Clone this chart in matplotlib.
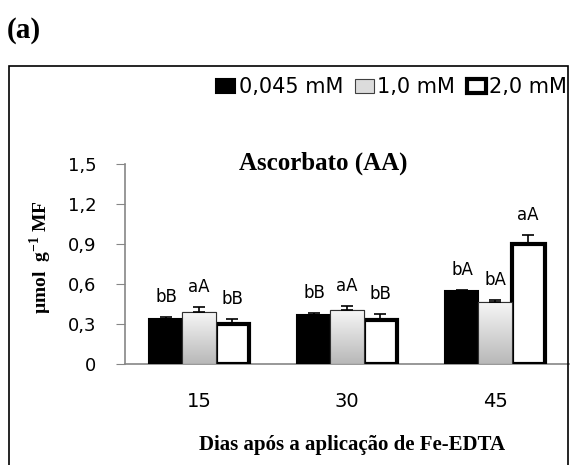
import matplotlib
matplotlib.use("Agg")
import matplotlib.pyplot as plt
import numpy as np
from matplotlib.patches import Rectangle
from matplotlib.colors import LinearSegmentedColormap

plt.rcParams['mathtext.fontset'] = 'custom'
plt.rcParams['mathtext.rm'] = 'Liberation Serif:bold'
plt.rcParams['mathtext.bf'] = 'Liberation Serif:bold'

categories = ["15", "30", "45"]
series_names = ["0,045 mM", "1,0 mM", "2,0 mM"]
values = {
    "0,045 mM": [0.34, 0.37, 0.545],
    "1,0 mM": [0.39, 0.405, 0.465],
    "2,0 mM": [0.30, 0.332, 0.90],
}
errors = {
    "0,045 mM": [0.01, 0.01, 0.01],
    "1,0 mM": [0.035, 0.032, 0.015],
    "2,0 mM": [0.04, 0.04, 0.07],
}
letters = {
    "0,045 mM": ["bB", "bB", "bA"],
    "1,0 mM": ["aA", "aA", "bA"],
    "2,0 mM": ["bB", "bB", "aA"],
}
yticks = [0, 0.3, 0.6, 0.9, 1.2, 1.5]
ytick_labels = ["0", "0,3", "0,6", "0,9", "1,2", "1,5"]

W, H = 570, 465
fig = plt.figure(figsize=(W/100, H/100), dpi=100)
ax = fig.add_axes([125/W, 1-364/H, (569-125)/W, (364-164)/H])

sans = ['DejaVu Sans']
serif = ['Liberation Serif', 'DejaVu Serif']

x = np.arange(len(categories))
bw = 0.223
offsets = [-bw, 0, bw]
gray_cmap = LinearSegmentedColormap.from_list("g", ["#b8b8b8", "#f6f6f6"])
grad = np.linspace(0, 1, 100).reshape(-1, 1)

handles = []
for i, name in enumerate(series_names):
    vals = values[name]
    errs = errors[name]
    if i == 0:
        bars = ax.bar(x + offsets[i], vals, bw, color='black', edgecolor='black',
                      linewidth=1.5, zorder=3, label=name)
    elif i == 1:
        bars = ax.bar(x + offsets[i], vals, bw, color='#dcdcdc', edgecolor='#404040',
                      linewidth=0.8, zorder=3, label=name)
        for b in bars:
            x0, y0 = b.get_x(), b.get_y()
            im = ax.imshow(grad, extent=[x0, x0 + b.get_width(), y0, y0 + b.get_height()],
                           origin='lower', cmap=gray_cmap, aspect='auto', zorder=3.5)
            im.set_clip_path(b)
            ax.add_patch(Rectangle((x0, y0), b.get_width(), b.get_height(), fill=False,
                                   edgecolor='#303030', linewidth=0.8, zorder=3.6))
    else:
        bars = ax.bar(x + offsets[i], vals, bw, color='white', edgecolor='black',
                      linewidth=3, zorder=3, label=name)
    handles.append(bars)
    ax.errorbar(x + offsets[i], vals, yerr=[np.zeros(len(errs)), errs], fmt='none',
                ecolor='black', elinewidth=1.2, capsize=4, capthick=1.2, zorder=4)
    for j in range(len(categories)):
        ax.annotate(letters[name][j], (x[j] + offsets[i], vals[j] + errs[j]),
                    xytext=(0, 8), textcoords='offset points', ha='center', va='bottom',
                    fontsize=12, family=sans, zorder=5)

ax.set_xlim(-0.5, 2.5)
ax.set_ylim(0, 1.5)
ax.set_yticks(yticks)
ax.set_yticklabels(ytick_labels, family=sans, fontsize=13)
ax.set_xticks(x)
ax.set_xticklabels(categories, family=sans, fontsize=14)
ax.tick_params(axis='y', length=6.5, color='#868686', pad=14)
ax.tick_params(axis='x', length=0, pad=20)
for s in ['top', 'right']:
    ax.spines[s].set_visible(False)
ax.spines['left'].set_color('#868686')
ax.spines['bottom'].set_color('#868686')
ax.spines['left'].set_linewidth(1.2)
ax.spines['bottom'].set_linewidth(1.2)
ax.spines['bottom'].set_zorder(2)
ax.set_facecolor('none')

fig.text(323/W, 1-170/H, "Ascorbato (AA)", family=serif, weight='bold', fontsize=18,
         ha='center', va='baseline')
fig.text(41/W, 1-257/H, "µmol  g$^{-1}$ MF", family=serif, weight='bold', fontsize=14,
         rotation=90, ha='center', va='center')
fig.text(352/W, 1-450/H, "Dias após a aplicação de Fe-EDTA", family=serif, weight='bold',
         fontsize=15, ha='center', va='baseline')
fig.text(7/W, 1-31/H, "(a)", family=serif, weight='bold', fontsize=21, ha='left', va='center')

leg = fig.legend(handles=handles, labels=series_names, loc='center right',
                 bbox_to_anchor=(567/W, 1-87/H), ncol=3, frameon=False,
                 handlelength=0.91, handleheight=0.65, handletextpad=0.15, columnspacing=0.58,
                 prop={'family': sans, 'size': 15}, borderaxespad=0, borderpad=0)

fig.add_artist(Rectangle((9/W, -0.05), (568-9)/W, 0.05 + 1-66/H, transform=fig.transFigure,
                         fill=False, edgecolor='black', linewidth=1.2, clip_on=False))

fig.savefig("out.png", dpi=100)
